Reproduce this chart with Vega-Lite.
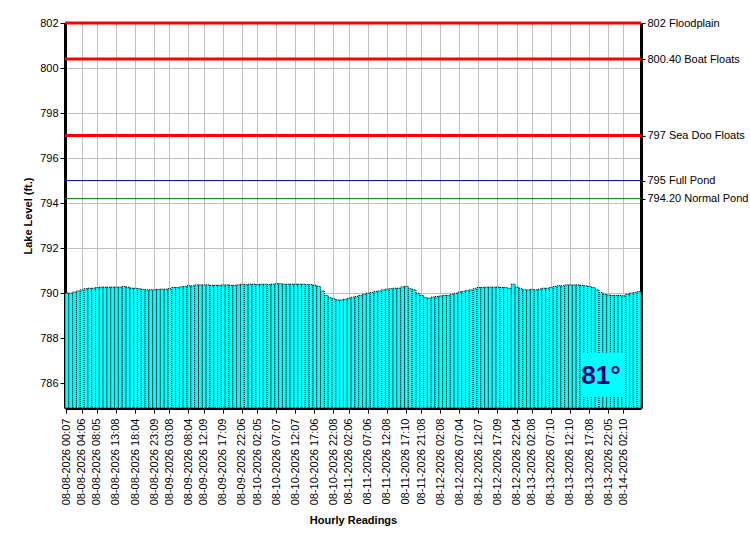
{
  "$schema": "https://vega.github.io/schema/vega-lite/v6.json",
  "width": 576,
  "height": 385,
  "autosize": "none",
  "padding": {"left": 65, "top": 23, "right": 109, "bottom": 142},
  "background": "white",
  "config": {
    "view": {"stroke": null},
    "font": "Liberation Sans",
    "axis": {
      "labelFont": "Liberation Sans",
      "labelFontSize": 11,
      "labelColor": "#000",
      "titleFont": "Liberation Sans",
      "titleFontSize": 11,
      "titleFontWeight": "bold",
      "titleColor": "#000",
      "domainColor": "#000",
      "domainWidth": 3,
      "tickColor": "#000",
      "gridColor": "#c0c0c0",
      "gridOpacity": 1
    }
  },
  "datasets": {
    "levels": [
      {"time": "08-08-2026 00:07", "level": 790.0},
      {"time": "08-08-2026 01:07", "level": 790.0},
      {"time": "08-08-2026 02:06", "level": 790.05},
      {"time": "08-08-2026 03:07", "level": 790.1},
      {"time": "08-08-2026 04:06", "level": 790.15},
      {"time": "08-08-2026 05:07", "level": 790.2},
      {"time": "08-08-2026 06:06", "level": 790.22},
      {"time": "08-08-2026 07:07", "level": 790.22},
      {"time": "08-08-2026 08:05", "level": 790.25},
      {"time": "08-08-2026 09:07", "level": 790.27},
      {"time": "08-08-2026 10:06", "level": 790.27},
      {"time": "08-08-2026 11:07", "level": 790.27},
      {"time": "08-08-2026 12:08", "level": 790.27},
      {"time": "08-08-2026 13:08", "level": 790.27},
      {"time": "08-08-2026 14:07", "level": 790.27},
      {"time": "08-08-2026 15:06", "level": 790.3},
      {"time": "08-08-2026 16:07", "level": 790.27},
      {"time": "08-08-2026 17:05", "level": 790.22},
      {"time": "08-08-2026 18:04", "level": 790.22},
      {"time": "08-08-2026 19:07", "level": 790.2},
      {"time": "08-08-2026 20:06", "level": 790.17},
      {"time": "08-08-2026 21:07", "level": 790.15},
      {"time": "08-08-2026 22:08", "level": 790.15},
      {"time": "08-08-2026 23:09", "level": 790.15},
      {"time": "08-09-2026 00:07", "level": 790.17},
      {"time": "08-09-2026 01:06", "level": 790.18},
      {"time": "08-09-2026 02:07", "level": 790.18},
      {"time": "08-09-2026 03:08", "level": 790.2},
      {"time": "08-09-2026 04:07", "level": 790.25},
      {"time": "08-09-2026 05:06", "level": 790.25},
      {"time": "08-09-2026 06:07", "level": 790.28},
      {"time": "08-09-2026 07:05", "level": 790.3},
      {"time": "08-09-2026 08:04", "level": 790.33},
      {"time": "08-09-2026 09:07", "level": 790.33},
      {"time": "08-09-2026 10:06", "level": 790.37},
      {"time": "08-09-2026 11:08", "level": 790.37},
      {"time": "08-09-2026 12:09", "level": 790.37},
      {"time": "08-09-2026 13:07", "level": 790.37},
      {"time": "08-09-2026 14:06", "level": 790.35},
      {"time": "08-09-2026 15:07", "level": 790.35},
      {"time": "08-09-2026 16:08", "level": 790.35},
      {"time": "08-09-2026 17:09", "level": 790.37},
      {"time": "08-09-2026 18:07", "level": 790.37},
      {"time": "08-09-2026 19:06", "level": 790.35},
      {"time": "08-09-2026 20:07", "level": 790.35},
      {"time": "08-09-2026 21:05", "level": 790.37},
      {"time": "08-09-2026 22:06", "level": 790.4},
      {"time": "08-09-2026 23:07", "level": 790.38},
      {"time": "08-10-2026 00:06", "level": 790.4},
      {"time": "08-10-2026 01:07", "level": 790.4},
      {"time": "08-10-2026 02:05", "level": 790.38},
      {"time": "08-10-2026 03:07", "level": 790.4},
      {"time": "08-10-2026 04:06", "level": 790.4},
      {"time": "08-10-2026 05:07", "level": 790.38},
      {"time": "08-10-2026 06:08", "level": 790.4},
      {"time": "08-10-2026 07:07", "level": 790.42},
      {"time": "08-10-2026 08:06", "level": 790.42},
      {"time": "08-10-2026 09:07", "level": 790.4},
      {"time": "08-10-2026 10:06", "level": 790.4},
      {"time": "08-10-2026 11:07", "level": 790.4},
      {"time": "08-10-2026 12:07", "level": 790.4},
      {"time": "08-10-2026 13:06", "level": 790.4},
      {"time": "08-10-2026 14:07", "level": 790.4},
      {"time": "08-10-2026 15:08", "level": 790.38},
      {"time": "08-10-2026 16:07", "level": 790.38},
      {"time": "08-10-2026 17:06", "level": 790.35},
      {"time": "08-10-2026 18:07", "level": 790.3},
      {"time": "08-10-2026 19:06", "level": 790.1},
      {"time": "08-10-2026 20:07", "level": 789.9},
      {"time": "08-10-2026 21:07", "level": 789.8},
      {"time": "08-10-2026 22:08", "level": 789.75},
      {"time": "08-10-2026 23:07", "level": 789.7},
      {"time": "08-11-2026 00:06", "level": 789.7},
      {"time": "08-11-2026 01:07", "level": 789.73},
      {"time": "08-11-2026 02:06", "level": 789.78},
      {"time": "08-11-2026 03:07", "level": 789.82},
      {"time": "08-11-2026 04:08", "level": 789.85},
      {"time": "08-11-2026 05:07", "level": 789.9},
      {"time": "08-11-2026 06:06", "level": 789.95},
      {"time": "08-11-2026 07:06", "level": 790.0},
      {"time": "08-11-2026 08:07", "level": 790.03},
      {"time": "08-11-2026 09:06", "level": 790.08},
      {"time": "08-11-2026 10:07", "level": 790.1},
      {"time": "08-11-2026 11:07", "level": 790.15},
      {"time": "08-11-2026 12:08", "level": 790.18},
      {"time": "08-11-2026 13:07", "level": 790.2},
      {"time": "08-11-2026 14:06", "level": 790.22},
      {"time": "08-11-2026 15:07", "level": 790.22},
      {"time": "08-11-2026 16:08", "level": 790.28},
      {"time": "08-11-2026 17:10", "level": 790.3},
      {"time": "08-11-2026 18:07", "level": 790.2},
      {"time": "08-11-2026 19:06", "level": 790.15},
      {"time": "08-11-2026 20:07", "level": 790.0},
      {"time": "08-11-2026 21:08", "level": 789.9},
      {"time": "08-11-2026 22:07", "level": 789.8},
      {"time": "08-11-2026 23:06", "level": 789.78},
      {"time": "08-12-2026 00:07", "level": 789.83},
      {"time": "08-12-2026 01:06", "level": 789.85},
      {"time": "08-12-2026 02:08", "level": 789.87},
      {"time": "08-12-2026 03:07", "level": 789.9},
      {"time": "08-12-2026 04:06", "level": 789.9},
      {"time": "08-12-2026 05:07", "level": 789.95},
      {"time": "08-12-2026 06:05", "level": 790.0},
      {"time": "08-12-2026 07:04", "level": 790.05},
      {"time": "08-12-2026 08:07", "level": 790.08},
      {"time": "08-12-2026 09:06", "level": 790.12},
      {"time": "08-12-2026 10:07", "level": 790.15},
      {"time": "08-12-2026 11:08", "level": 790.2},
      {"time": "08-12-2026 12:07", "level": 790.25},
      {"time": "08-12-2026 13:06", "level": 790.25},
      {"time": "08-12-2026 14:07", "level": 790.27},
      {"time": "08-12-2026 15:08", "level": 790.27},
      {"time": "08-12-2026 16:07", "level": 790.27},
      {"time": "08-12-2026 17:09", "level": 790.27},
      {"time": "08-12-2026 18:07", "level": 790.25},
      {"time": "08-12-2026 19:06", "level": 790.25},
      {"time": "08-12-2026 20:07", "level": 790.22},
      {"time": "08-12-2026 21:05", "level": 790.4},
      {"time": "08-12-2026 22:04", "level": 790.27},
      {"time": "08-12-2026 23:07", "level": 790.2},
      {"time": "08-13-2026 00:06", "level": 790.15},
      {"time": "08-13-2026 01:07", "level": 790.15},
      {"time": "08-13-2026 02:08", "level": 790.17},
      {"time": "08-13-2026 03:07", "level": 790.15},
      {"time": "08-13-2026 04:06", "level": 790.18},
      {"time": "08-13-2026 05:07", "level": 790.22},
      {"time": "08-13-2026 06:08", "level": 790.22},
      {"time": "08-13-2026 07:10", "level": 790.25},
      {"time": "08-13-2026 08:07", "level": 790.3},
      {"time": "08-13-2026 09:06", "level": 790.33},
      {"time": "08-13-2026 10:07", "level": 790.33},
      {"time": "08-13-2026 11:08", "level": 790.37},
      {"time": "08-13-2026 12:10", "level": 790.37},
      {"time": "08-13-2026 13:07", "level": 790.37},
      {"time": "08-13-2026 14:06", "level": 790.37},
      {"time": "08-13-2026 15:07", "level": 790.35},
      {"time": "08-13-2026 16:08", "level": 790.33},
      {"time": "08-13-2026 17:08", "level": 790.3},
      {"time": "08-13-2026 18:07", "level": 790.25},
      {"time": "08-13-2026 19:06", "level": 790.15},
      {"time": "08-13-2026 20:07", "level": 790.03},
      {"time": "08-13-2026 21:06", "level": 789.95},
      {"time": "08-13-2026 22:05", "level": 789.92},
      {"time": "08-13-2026 23:07", "level": 789.9},
      {"time": "08-14-2026 00:06", "level": 789.9},
      {"time": "08-14-2026 01:07", "level": 789.9},
      {"time": "08-14-2026 02:10", "level": 789.88},
      {"time": "08-14-2026 03:07", "level": 789.95},
      {"time": "08-14-2026 04:06", "level": 790.0},
      {"time": "08-14-2026 05:07", "level": 790.03},
      {"time": "08-14-2026 06:08", "level": 790.07}
    ],
    "marks": [
      {"name": "Floodplain", "level": 802},
      {"name": "Boat Floats", "level": 800.4},
      {"name": "Sea Doo Floats", "level": 797},
      {"name": "Full Pond", "level": 795},
      {"name": "Normal Pond", "level": 794.2}
    ],
    "temp": [
      {"label": "81°"}
    ]
  },
  "layer": [
    {
      "data": {"name": "levels"},
      "mark": {
        "type": "bar",
        "fill": "#00ffff",
        "stroke": "#000",
        "strokeWidth": 1,
        "strokeDash": [1, 1]
      },
      "encoding": {
        "x": {
          "field": "time",
          "type": "ordinal",
          "sort": null,
          "scale": {"paddingInner": 0, "paddingOuter": 0},
          "axis": {
            "values": [
              "08-08-2026 00:07", "08-08-2026 04:06", "08-08-2026 08:05", "08-08-2026 13:08",
              "08-08-2026 18:04", "08-08-2026 23:09", "08-09-2026 03:08", "08-09-2026 08:04",
              "08-09-2026 12:09", "08-09-2026 17:09", "08-09-2026 22:06", "08-10-2026 02:05",
              "08-10-2026 07:07", "08-10-2026 12:07", "08-10-2026 17:06", "08-10-2026 22:08",
              "08-11-2026 02:06", "08-11-2026 07:06", "08-11-2026 12:08", "08-11-2026 17:10",
              "08-11-2026 21:08", "08-12-2026 02:08", "08-12-2026 07:04", "08-12-2026 12:07",
              "08-12-2026 17:09", "08-12-2026 22:04", "08-13-2026 02:08", "08-13-2026 07:10",
              "08-13-2026 12:10", "08-13-2026 17:08", "08-13-2026 22:05", "08-14-2026 02:10"
            ],
            "labelAngle": -90,
            "labelOverlap": false,
            "labelBound": false,
            "labelPadding": 5,
            "tickSize": 5,
            "grid": true,
            "title": "Hourly Readings",
            "titlePadding": 10
          }
        },
        "y": {
          "field": "level",
          "type": "quantitative",
          "scale": {"domain": [784.9, 802], "nice": false, "zero": false},
          "axis": {
            "values": [786, 788, 790, 792, 794, 796, 798, 800, 802],
            "orient": "left",
            "grid": true,
            "tickSize": 5,
            "labelPadding": 2,
            "title": "Lake Level (ft.)",
            "titlePadding": 6
          }
        },
        "y2": {"datum": 784.9}
      }
    },
    {
      "data": {"name": "marks"},
      "mark": {"type": "rule"},
      "encoding": {
        "y": {
          "field": "level",
          "type": "quantitative",
          "scale": {"domain": [784.9, 802], "nice": false, "zero": false},
          "axis": {
            "orient": "right",
            "values": [802, 800.4, 797, 795, 794.2],
            "labelExpr": "datum.value == 802 ? '802 Floodplain' : datum.value == 800.4 ? '800.40 Boat Floats' : datum.value == 797 ? '797 Sea Doo Floats' : datum.value == 795 ? '795 Full Pond' : '794.20 Normal Pond'",
            "grid": false,
            "tickSize": 4,
            "labelPadding": 2,
            "title": null
          }
        },
        "color": {
          "field": "name",
          "type": "nominal",
          "scale": {
            "domain": ["Floodplain", "Boat Floats", "Sea Doo Floats", "Full Pond", "Normal Pond"],
            "range": ["#ff0000", "#ff0000", "#ff0000", "#000080", "#008000"]
          },
          "legend": null
        },
        "strokeWidth": {
          "condition": {"test": "datum.level < 796", "value": 1},
          "value": 3
        }
      }
    },
    {
      "data": {"name": "temp"},
      "mark": {"type": "rect", "fill": "#00ffff"},
      "encoding": {
        "x": {"datum": "08-13-2026 15:07"},
        "x2": {"datum": "08-14-2026 02:10"},
        "y": {"datum": 785.4, "axis": null},
        "y2": {"datum": 787.35}
      }
    },
    {
      "data": {"name": "temp"},
      "mark": {
        "type": "text",
        "font": "Liberation Sans",
        "fontSize": 26,
        "fontWeight": "bold",
        "color": "#000080",
        "align": "center",
        "baseline": "middle"
      },
      "encoding": {
        "x": {"datum": "08-13-2026 20:07"},
        "y": {"datum": 786.3, "axis": null},
        "text": {"field": "label"}
      }
    }
  ],
  "resolve": {"axis": {"y": "independent"}}
}
